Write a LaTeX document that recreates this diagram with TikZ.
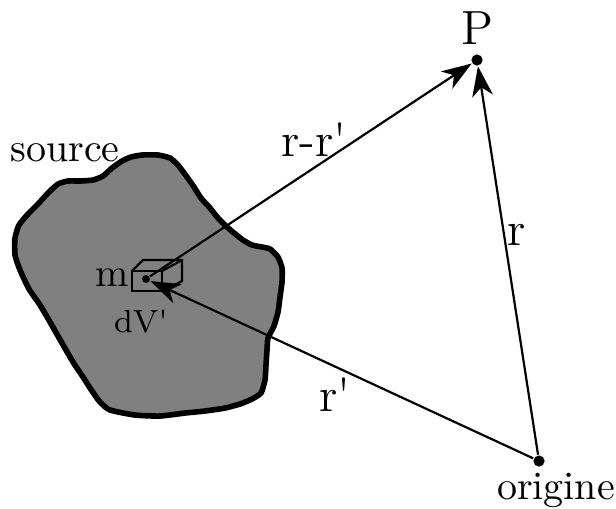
\documentclass[tikz,border=0pt]{standalone}
\usetikzlibrary{arrows.meta}
\begin{document}
\begin{tikzpicture}[x=0.25pt,y=-0.25pt,
  vec/.style={line width=0.55pt,-{Stealth[length=7.5pt,width=5.2pt,inset=2.2pt]}},
  pt/.style={circle,fill=black,inner sep=0pt,minimum size=2.8pt},
  lbl/.style={inner sep=0pt,font=\large},
  blob/.style={fill=black!50,draw=black,line width=1.4pt,line join=round}]
\useasboundingbox (0,0) rectangle (616,508);

% source body, a rough irregular outline
\draw[blob] plot[smooth cycle,tension=0.35] coordinates {
  (122,161) (131,157) (142,155) (158,155) (170,158) (178,165) (187,177)
  (194,187) (201,198) (210,208) (218,218) (226,226) (234,233) (243,240)
  (252,245) (262,247) (270,249) (278,257) (282,268) (282,282) (280,297)
  (278,312) (274,326) (268,338) (267,350) (266,365) (265,380) (261,393)
  (252,399) (240,404) (225,408) (205,411) (185,413) (160,416) (135,415)
  (110,410) (100,402) (92,391) (83,377) (73,362) (62,343) (50,322)
  (40,305) (29,289) (20,270) (15,255) (15,238) (19,225) (28,214)
  (38,204) (48,193) (58,184) (68,181) (80,181) (93,180) (103,176) (112,168)};
\node[inner sep=0pt] (src) at (65,153) {source};

% volume element dV'
\draw[line width=0.55pt] (132,271) rectangle (162,291);
\draw[line width=0.55pt] (132,271) -- (143,260) -- (182,260) -- (182,281) -- (162,291)
  (162,271) -- (182,260);
\node[pt,minimum size=2pt] (m) at (146,279) {};
\node[inner sep=0pt,anchor=east] (mlbl) at (130,278) {m};
\node[inner sep=0pt,font=\fontsize{8}{9.5}\selectfont] (dv) at (141,322) {dV\textquotesingle};

% observation point and origin
\node[pt] (P) at (477,60) {};
\node[inner sep=0pt,font=\large] (Plbl) at (477,28) {P};
\node[pt] (O) at (539,461) {};
\node[inner sep=0pt] (Olbl) at (556,490) {origine};

% position vectors
\draw[vec] (m) -- (P);
\draw[vec] (O) -- (P);
\draw[vec] (O) -- (m);

\node[lbl] (rr) at (314,140) {r-r\textquotesingle};
\node[lbl] (r) at (517,235) {r};
\node[lbl] (rp) at (335,395) {r\textquotesingle};
\end{tikzpicture}
\end{document}
